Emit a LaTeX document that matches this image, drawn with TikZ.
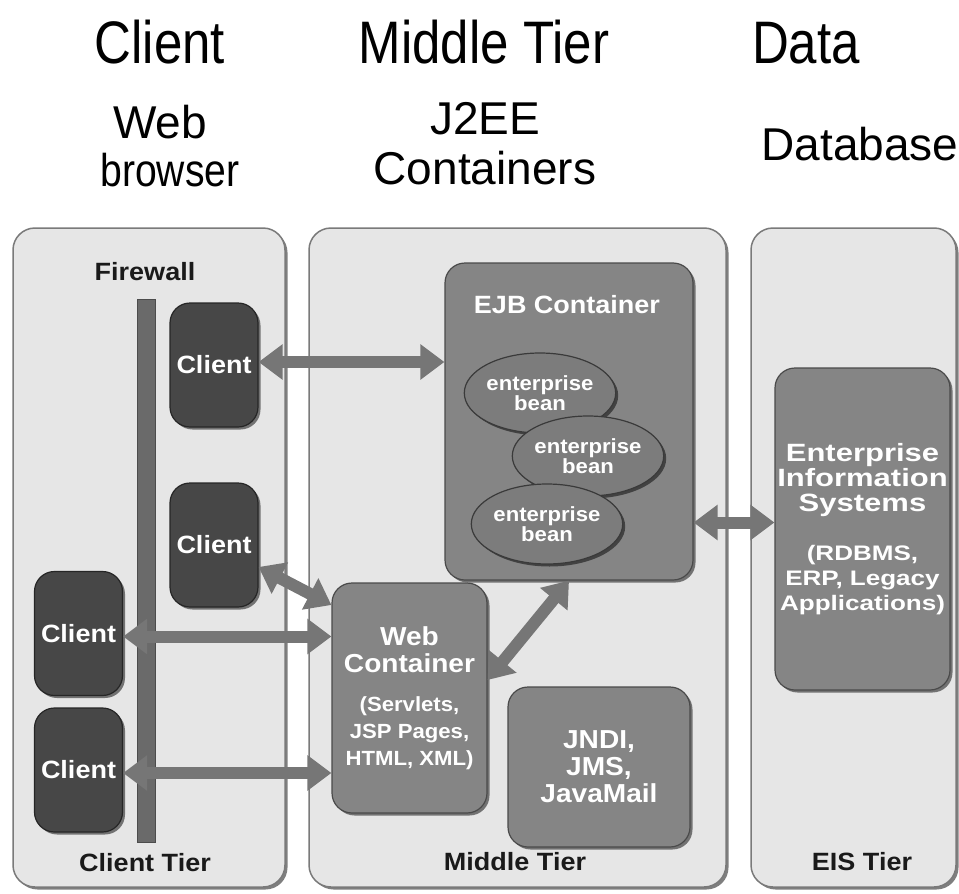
\documentclass[tikz,border=0pt]{standalone}
\usepackage{fontspec}
\setmainfont{Liberation Sans}
\newfontfamily\dfont{Liberation Sans}[FakeStretch=1.08]
\newfontfamily\efont{Liberation Sans}[FakeStretch=1.24]
\newfontfamily\hfont{Liberation Sans}[FakeStretch=0.85]
\newcommand\wsm{\fontsize{20.5}{27.5}\selectfont}
\newcommand\esm{\fontsize{21}{27}\selectfont}
\usetikzlibrary{shapes.geometric,arrows.meta,shadows,calc}
\definecolor{panelfill}{HTML}{E6E6E6}
\definecolor{paneldraw}{HTML}{7A7A7A}
\definecolor{clientfill}{HTML}{474747}
\definecolor{clientdraw}{HTML}{262626}
\definecolor{midfill}{HTML}{858585}
\definecolor{middraw}{HTML}{4A4A4A}
\definecolor{beanfill}{HTML}{7C7C7C}
\definecolor{beandraw}{HTML}{3A3A3A}
\definecolor{arrowcol}{HTML}{767676}
\definecolor{fwfill}{HTML}{6A6A6A}
\definecolor{labelcol}{HTML}{1A1A1A}
\begin{document}
\begin{tikzpicture}[x=1pt,y=-1pt,
  shd/.style={drop shadow={shadow xshift=2.5pt,shadow yshift=-2.5pt,opacity=0.5,fill=black}},
  panel/.style={draw=paneldraw, line width=1.5pt, fill=panelfill, rounded corners=22pt, inner sep=0pt, shd},
  clientbox/.style={draw=clientdraw, line width=1.2pt, fill=clientfill, rounded corners=20pt,
    minimum width=88pt, minimum height=124pt, inner sep=0pt, text=white,
    font=\dfont\bfseries\fontsize{25}{28}\selectfont, shd},
  midbox/.style={draw=middraw, line width=1.2pt, fill=midfill, rounded corners=20pt,
    inner sep=0pt, text=white, align=center, shd},
  bean/.style={ellipse, draw=beandraw, line width=1.2pt, fill=beanfill, minimum width=130pt,
    minimum height=80pt, inner sep=0pt, text=white, align=center,
    font=\dfont\bfseries\fontsize{20.5}{20}\selectfont, shd},
  firewallbar/.style={draw=black!70, line width=1pt, fill=fwfill, minimum width=18pt,
    minimum height=543pt, inner sep=0pt},
  tierlabel/.style={text=labelcol, font=\dfont\bfseries\fontsize{25}{28}\selectfont, inner sep=0pt},
  hd/.style={font=\hfont\fontsize{60}{72}\selectfont, inner sep=0pt, anchor=base},
  subhd/.style={font=\fontsize{46}{52}\selectfont, inner sep=0pt, anchor=base},
  conn/.style={draw=arrowcol, line width=12pt,
    {Triangle[length=24pt,width=34pt]}-{Triangle[length=24pt,width=34pt]}}
]
\useasboundingbox (0,0) rectangle (959,894);
% headings
\node[hd] (hclient) at (160,63) {Client};
\node[hd] (hmiddle) at (484,63) {Middle Tier};
\node[hd] (hdata) at (806,63) {Data};
\node[subhd] (hweb) at (160,138) {Web};
\node[subhd, font=\hfont\fontsize{46}{52}\selectfont] (hbrowser) at (170,186) {browser};
\node[subhd] (hj2ee) at (485,134) {J2EE};
\node[subhd] (hcont) at (485,184) {Containers};
\node[subhd] (hdb) at (860,160) {Database};
% panels
\node[panel, minimum width=272pt, minimum height=659pt] (p1) at (149,557.5) {};
\node[panel, minimum width=417pt, minimum height=659pt] (p2) at (517.5,557.5) {};
\node[panel, minimum width=205pt, minimum height=659pt] (p3) at (853.5,557.5) {};
\node[tierlabel] (lfw) at (145,272) {Firewall};
\node[tierlabel] (lct) at (145,863) {Client Tier};
\node[tierlabel] (lmt) at (515,862) {Middle Tier};
\node[tierlabel] (let) at (862,862) {EIS Tier};
% firewall
\node[firewallbar] (fw) at (146,570.5) {};
% clients
\node[clientbox] (c1) at (214,365) {Client};
\node[clientbox] (c2) at (214,545) {Client};
\node[clientbox] (c3) at (78.5,633.5) {Client};
\node[clientbox] (c4) at (78.5,770) {Client};
% middle tier
\node[midbox, minimum width=248pt, minimum height=317pt] (ejb) at (569,421.5) {};
\node[text=white, font=\dfont\bfseries\fontsize{25}{28}\selectfont, inner sep=0pt] (ejbt) at (567,305) {EJB Container};
\node[bean] (b1) at (540,393) {enterprise\\bean};
\node[bean] (b2) at (588,456) {enterprise\\bean};
\node[bean] (b3) at (547,524) {enterprise\\bean};
\node[midbox, minimum width=155pt, minimum height=230pt,
  font=\dfont\bfseries\fontsize{26}{27}\selectfont] (web) at (409.5,698)
  {Web\\Container\\[12pt]\wsm (Servlets,\\\wsm JSP Pages,\\\wsm HTML, XML)};
\node[midbox, minimum width=182pt, minimum height=160pt,
  font=\dfont\bfseries\fontsize{26}{27}\selectfont] (jndi) at (599,767) {JNDI,\\JMS,\\JavaMail};
% EIS
\node[midbox, minimum width=175pt, minimum height=322pt,
  font=\efont\bfseries\fontsize{25}{25}\selectfont] (eis) at (862.5,529)
  {Enterprise\\Information\\Systems\\[24pt]\esm (RDBMS,\\\esm ERP, Legacy\\\esm Applications)};
% connectors
\draw[conn] ([yshift=3pt]c1.east) -- ([yshift=3pt]c1.east -| ejb.west);
\draw[conn] ([yshift=-22pt]c2.east) -- ([yshift=93pt]web.west);
\draw[conn] ([yshift=-3pt]c3.east) -- ([yshift=-3pt]c3.east -| web.west);
\draw[conn] ([yshift=-3pt]c4.east) -- ([yshift=-3pt]c4.east -| web.west);
\draw[conn] ([yshift=18pt]web.east) -- (ejb.south);
\draw[conn] ([yshift=-101pt]ejb.east) -- ([yshift=-101pt]ejb.east -| eis.west);
\end{tikzpicture}
\end{document}
